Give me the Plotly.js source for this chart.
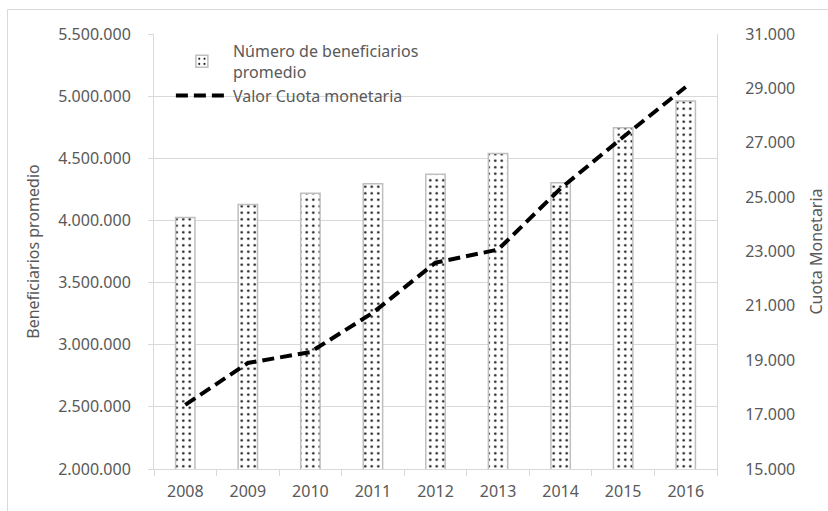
<!DOCTYPE html>
<html>
<head>
<meta charset="utf-8">
<script src="https://cdn.plot.ly/plotly-3.0.1.min.js"></script>
<style>html,body{margin:0;padding:0;background:#fff;}#chart{width:828px;height:511px;}</style>
</head>
<body>
<div id="chart"></div>
<script>
const years = ['2008','2009','2010','2011','2012','2013','2014','2015','2016'];
const beneficiarios = [4024000, 4129000, 4218000, 4295000, 4371000, 4538000, 4304000, 4745000, 4960000];
const cuota = [17360, 18900, 19300, 20750, 22590, 23070, 25320, 27210, 29050];
const leftTicks = [2000000, 2500000, 3000000, 3500000, 4000000, 4500000, 5000000, 5500000];
const rightTicks = [15000, 17000, 19000, 21000, 23000, 25000, 27000, 29000, 31000];

const grid = '#d9d9d9';
const txt = '#595959';
const fontFam = '"Noto Sans", "Open Sans", sans-serif';

const traces = [
  {
    type: 'bar', x: years, y: beneficiarios, name: 'Número de beneficiarios<br>promedio',
    width: 0.31,
    marker: {color: '#ffffff', line: {color: '#bfbfbf', width: 1.5},
      pattern: {shape: '.', size: 6.5, solidity: 0.12, fgcolor: '#111111', bgcolor: '#ffffff'}},
    hoverinfo: 'skip'
  },
  {
    type: 'scatter', mode: 'lines', x: years, y: cuota, yaxis: 'y2', name: 'Valor Cuota monetaria',
    line: {color: '#000000', width: 4, dash: '12px,6px'}, hoverinfo: 'skip'
  }
];

const layout = {
  width: 828, height: 511,
  margin: {l: 154, r: 111, t: 34, b: 42, pad: 0},
  paper_bgcolor: '#ffffff', plot_bgcolor: '#ffffff',
  separators: ',.',
  font: {family: fontFam, size: 16, color: txt},
  showlegend: true,
  legend: {x: 0.03, y: 1.0, xanchor: 'left', yanchor: 'top', bgcolor: 'rgba(0,0,0,0)',
    font: {size: 16, color: txt}, itemwidth: 52, tracegroupgap: 0},
  xaxis: {type: 'category', tickson: 'boundaries', ticks: 'outside', ticklen: 6, tickcolor: grid,
    showline: true, linecolor: grid, linewidth: 1, showgrid: false, zeroline: false,
    ticklabelstandoff: 8,
    tickfont: {size: 16, color: txt}, fixedrange: true},
  yaxis: {range: [2000000, 5500000], tickvals: leftTicks, tickformat: ',d',
    showgrid: true, gridcolor: grid, gridwidth: 1, zeroline: false,
    showline: true, linecolor: grid, ticks: 'outside', ticklen: 5, tickcolor: grid,
    ticklabelstandoff: 14,
    tickfont: {size: 16, color: txt},
    title: {text: 'Beneficiarios promedio', font: {size: 16, color: txt}, standoff: 14}},
  yaxis2: {range: [15000, 31000], tickvals: rightTicks, tickformat: ',d', overlaying: 'y', side: 'right',
    showgrid: false, zeroline: false, showline: true, linecolor: grid, ticks: '',
    ticklabelstandoff: 24,
    tickfont: {size: 16, color: txt},
    title: {text: 'Cuota Monetaria', font: {size: 16, color: txt}, standoff: 16}},
  annotations: [
    {xref: 'paper', yref: 'paper', x: (702-154)/563, y: (469-3.5)/435, xanchor: 'right', yanchor: 'bottom',
     showarrow: false, text: '<b>Cuota monetaria promedio (2008-2016)</b>',
     font: {family: fontFam, size: 27, color: '#000000'}}
  ],
  shapes: [
    {type: 'rect', xref: 'paper', yref: 'paper', x0: (7.5-154)/563, x1: 1.4, y0: -0.3, y1: (469-9.5)/435,
     line: {color: grid, width: 1}, fillcolor: 'rgba(0,0,0,0)', layer: 'below'}
  ]
};

Plotly.newPlot('chart', traces, layout, {staticPlot: true, displayModeBar: false});
</script>
</body>
</html>
